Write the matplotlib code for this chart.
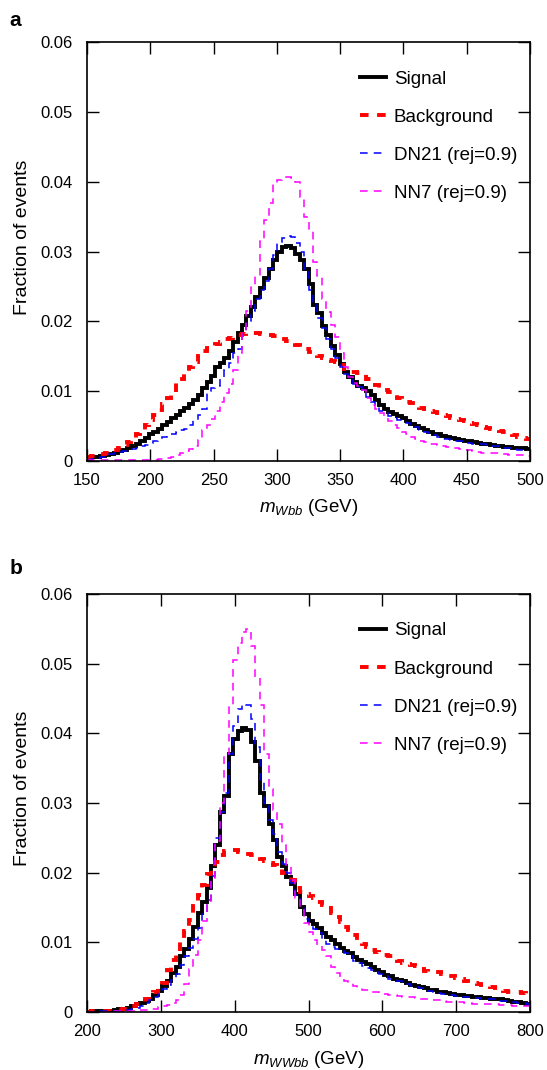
import numpy as np
import matplotlib
matplotlib.use("Agg")
import matplotlib.pyplot as plt

plt.rcParams['font.family'] = ['Liberation Sans', 'DejaVu Sans']
plt.rcParams['mathtext.fontset'] = 'custom'
plt.rcParams['mathtext.rm'] = 'Liberation Sans'
plt.rcParams['mathtext.it'] = 'Liberation Sans:italic'

# ---------------- Panel a data (m_Wbb, 3.5 GeV bins, 150-500) ----------------
edges_a = np.linspace(150, 500, 101)
signal_a = [0.0004, 0.0005, 0.0006, 0.0007, 0.0009, 0.0010, 0.0012, 0.0014, 0.0016, 0.0018,
            0.0022, 0.0025, 0.0029, 0.0033, 0.0038, 0.0042, 0.0046, 0.0051, 0.0056, 0.0061,
            0.0066, 0.0071, 0.0076, 0.0082, 0.0088, 0.0095, 0.0104, 0.0113, 0.0122, 0.0134,
            0.0140, 0.0147, 0.0157, 0.0171, 0.0183, 0.0195, 0.0208, 0.0221, 0.0235, 0.0248,
            0.0262, 0.0275, 0.0288, 0.0300, 0.0306, 0.0308, 0.0305, 0.0297, 0.0288, 0.0275,
            0.0254, 0.0224, 0.0212, 0.0194, 0.0180, 0.0165, 0.0152, 0.0139, 0.0128, 0.0120,
            0.0113, 0.0108, 0.0104, 0.0100, 0.0094, 0.0087, 0.0080, 0.0075, 0.0070, 0.0067,
            0.0064, 0.0061, 0.0057, 0.0053, 0.0050, 0.0047, 0.0044, 0.0041, 0.0039, 0.0038,
            0.0036, 0.0035, 0.0033, 0.0032, 0.0030, 0.0029, 0.0028, 0.0027, 0.0026, 0.0025,
            0.0024, 0.0023, 0.0022, 0.0021, 0.0020, 0.0020, 0.0019, 0.0018, 0.0018, 0.0017]
background_a = [0.0005, 0.0007, 0.0008, 0.0010, 0.0012, 0.0014, 0.0016, 0.0019, 0.0023, 0.0027,
                0.0032, 0.0038, 0.0044, 0.0051, 0.0059, 0.0066, 0.0073, 0.0082, 0.0090, 0.0099,
                0.0111, 0.0118, 0.0125, 0.0134, 0.0142, 0.0150, 0.0157, 0.0162, 0.0165, 0.0168,
                0.0171, 0.0174, 0.0176, 0.0178, 0.0180, 0.0182, 0.0183, 0.0183, 0.0183, 0.0182,
                0.0181, 0.0180, 0.0179, 0.0177, 0.0175, 0.0172, 0.0169, 0.0166, 0.0163, 0.0160,
                0.0156, 0.0153, 0.0150, 0.0147, 0.0145, 0.0143, 0.0142, 0.0138, 0.0132, 0.0128,
                0.0127, 0.0126, 0.0124, 0.0118, 0.0113, 0.0109, 0.0105, 0.0102, 0.0099, 0.0096,
                0.0090, 0.0087, 0.0085, 0.0083, 0.0079, 0.0076, 0.0074, 0.0072, 0.0070, 0.0068,
                0.0066, 0.0064, 0.0062, 0.0060, 0.0058, 0.0057, 0.0055, 0.0053, 0.0051, 0.0049,
                0.0047, 0.0046, 0.0045, 0.0043, 0.0041, 0.0039, 0.0037, 0.0035, 0.0033, 0.0031]
dn21_a = [0.0002, 0.0003, 0.0004, 0.0006, 0.0008, 0.0010, 0.0012, 0.0013, 0.0014, 0.0016,
          0.0017, 0.0019, 0.0021, 0.0023, 0.0026, 0.0029, 0.0032, 0.0034, 0.0036, 0.0039,
          0.0042, 0.0044, 0.0046, 0.0052, 0.0058, 0.0066, 0.0075, 0.0100, 0.0104, 0.0108,
          0.0120, 0.0130, 0.0140, 0.0155, 0.0160, 0.0182, 0.0200, 0.0215, 0.0232, 0.0245,
          0.0258, 0.0275, 0.0295, 0.0314, 0.0320, 0.0322, 0.0321, 0.0312, 0.0300, 0.0275,
          0.0245, 0.0225, 0.0205, 0.0190, 0.0175, 0.0160, 0.0148, 0.0135, 0.0124, 0.0116,
          0.0110, 0.0106, 0.0100, 0.0091, 0.0084, 0.0077, 0.0072, 0.0068, 0.0064, 0.0061,
          0.0059, 0.0057, 0.0054, 0.0051, 0.0048, 0.0045, 0.0042, 0.0040, 0.0037, 0.0034,
          0.0032, 0.0031, 0.0030, 0.0029, 0.0028, 0.0027, 0.0026, 0.0025, 0.0025, 0.0024,
          0.0023, 0.0022, 0.0021, 0.0020, 0.0019, 0.0018, 0.0017, 0.0016, 0.0016, 0.0015]
nn7_a = [0.0001, 0.0001, 0.0001, 0.0001, 0.0001, 0.0001, 0.0001, 0.0001, 0.0001, 0.0001,
         0.0001, 0.0001, 0.0001, 0.0002, 0.0002, 0.0002, 0.0003, 0.0003, 0.0004, 0.0005,
         0.0008, 0.0011, 0.0014, 0.0017, 0.0022, 0.0030, 0.0044, 0.0052, 0.0060, 0.0072,
         0.0085, 0.0097, 0.0110, 0.0130, 0.0155, 0.0185, 0.0215, 0.0250, 0.0265, 0.0315,
         0.0345, 0.0370, 0.0398, 0.0403, 0.0407, 0.0407, 0.0405, 0.0400, 0.0378, 0.0350,
         0.0330, 0.0285, 0.0265, 0.0232, 0.0214, 0.0195, 0.0178, 0.0155, 0.0135, 0.0120,
         0.0112, 0.0107, 0.0102, 0.0090, 0.0080, 0.0075, 0.0069, 0.0062, 0.0057, 0.0052,
         0.0047, 0.0042, 0.0038, 0.0035, 0.0032, 0.0029, 0.0027, 0.0025, 0.0024, 0.0023,
         0.0021, 0.0020, 0.0019, 0.0018, 0.0017, 0.0016, 0.0015, 0.0014, 0.0013, 0.0012,
         0.0012, 0.0011, 0.0011, 0.0010, 0.0010, 0.0009, 0.0009, 0.0008, 0.0008, 0.0007]

# ---------------- Panel b data (m_WWbb, 6 GeV bins, 200-800) ----------------
edges_b = np.linspace(200, 800, 101)
signal_b = [0.0000, 0.0001, 0.0001, 0.0001, 0.0002, 0.0002, 0.0003, 0.0004, 0.0005, 0.0006,
            0.0009, 0.0011, 0.0013, 0.0016, 0.0019, 0.0024, 0.0030, 0.0037, 0.0045, 0.0056,
            0.0065, 0.0080, 0.0091, 0.0105, 0.0122, 0.0142, 0.0158, 0.0178, 0.0209, 0.0240,
            0.0287, 0.0310, 0.0370, 0.0392, 0.0403, 0.0408, 0.0405, 0.0388, 0.0360, 0.0315,
            0.0295, 0.0270, 0.0247, 0.0222, 0.0210, 0.0194, 0.0184, 0.0170, 0.0150, 0.0140,
            0.0131, 0.0126, 0.0120, 0.0114, 0.0108, 0.0103, 0.0097, 0.0092, 0.0088, 0.0084,
            0.0079, 0.0075, 0.0072, 0.0069, 0.0065, 0.0061, 0.0057, 0.0053, 0.0051, 0.0048,
            0.0046, 0.0044, 0.0041, 0.0039, 0.0037, 0.0036, 0.0034, 0.0032, 0.0031, 0.0029,
            0.0028, 0.0027, 0.0026, 0.0025, 0.0024, 0.0023, 0.0023, 0.0022, 0.0021, 0.0020,
            0.0020, 0.0019, 0.0018, 0.0018, 0.0017, 0.0016, 0.0015, 0.0014, 0.0013, 0.0012]
background_b = [0.0000, 0.0001, 0.0001, 0.0001, 0.0002, 0.0002, 0.0003, 0.0003, 0.0004, 0.0005,
                0.0008, 0.0011, 0.0015, 0.0018, 0.0023, 0.0028, 0.0034, 0.0042, 0.0060, 0.0074,
                0.0086, 0.0100, 0.0116, 0.0132, 0.0152, 0.0168, 0.0183, 0.0198, 0.0206, 0.0215,
                0.0226, 0.0231, 0.0233, 0.0232, 0.0230, 0.0228, 0.0227, 0.0225, 0.0222, 0.0220,
                0.0217, 0.0214, 0.0211, 0.0206, 0.0200, 0.0195, 0.0189, 0.0178, 0.0172, 0.0170,
                0.0167, 0.0163, 0.0158, 0.0154, 0.0149, 0.0142, 0.0136, 0.0129, 0.0122, 0.0117,
                0.0110, 0.0104, 0.0098, 0.0093, 0.0089, 0.0086, 0.0084, 0.0082, 0.0080, 0.0078,
                0.0073, 0.0070, 0.0069, 0.0068, 0.0066, 0.0062, 0.0059, 0.0058, 0.0058, 0.0057,
                0.0054, 0.0052, 0.0051, 0.0049, 0.0047, 0.0044, 0.0042, 0.0041, 0.0040, 0.0039,
                0.0037, 0.0036, 0.0034, 0.0032, 0.0030, 0.0029, 0.0028, 0.0028, 0.0027, 0.0026]
dn21_b = [0.0000, 0.0000, 0.0000, 0.0001, 0.0001, 0.0001, 0.0001, 0.0002, 0.0002, 0.0003,
          0.0004, 0.0006, 0.0009, 0.0013, 0.0017, 0.0022, 0.0027, 0.0033, 0.0039, 0.0046,
          0.0055, 0.0068, 0.0080, 0.0092, 0.0105, 0.0120, 0.0142, 0.0161, 0.0195, 0.0250,
          0.0287, 0.0315, 0.0370, 0.0410, 0.0435, 0.0442, 0.0440, 0.0420, 0.0380, 0.0330,
          0.0300, 0.0276, 0.0255, 0.0230, 0.0212, 0.0200, 0.0185, 0.0168, 0.0151, 0.0133,
          0.0125, 0.0119, 0.0113, 0.0104, 0.0097, 0.0093, 0.0090, 0.0087, 0.0084, 0.0080,
          0.0073, 0.0070, 0.0066, 0.0063, 0.0060, 0.0057, 0.0054, 0.0051, 0.0048, 0.0046,
          0.0044, 0.0042, 0.0040, 0.0038, 0.0036, 0.0034, 0.0032, 0.0030, 0.0029, 0.0027,
          0.0026, 0.0025, 0.0024, 0.0023, 0.0022, 0.0022, 0.0021, 0.0020, 0.0020, 0.0019,
          0.0018, 0.0018, 0.0017, 0.0016, 0.0016, 0.0015, 0.0014, 0.0013, 0.0013, 0.0012]
nn7_b = [0.0000, 0.0000, 0.0000, 0.0000, 0.0000, 0.0000, 0.0001, 0.0001, 0.0001, 0.0001,
         0.0002, 0.0002, 0.0003, 0.0003, 0.0004, 0.0005, 0.0007, 0.0008, 0.0010, 0.0013,
         0.0017, 0.0024, 0.0040, 0.0062, 0.0082, 0.0103, 0.0130, 0.0160, 0.0192, 0.0245,
         0.0300, 0.0370, 0.0440, 0.0505, 0.0530, 0.0545, 0.0550, 0.0525, 0.0480, 0.0440,
         0.0370, 0.0320, 0.0290, 0.0270, 0.0240, 0.0210, 0.0190, 0.0163, 0.0146, 0.0128,
         0.0115, 0.0103, 0.0095, 0.0089, 0.0080, 0.0065, 0.0056, 0.0050, 0.0045, 0.0041,
         0.0037, 0.0034, 0.0032, 0.0031, 0.0029, 0.0028, 0.0027, 0.0026, 0.0025, 0.0024,
         0.0023, 0.0022, 0.0022, 0.0021, 0.0020, 0.0019, 0.0019, 0.0018, 0.0017, 0.0017,
         0.0016, 0.0015, 0.0015, 0.0014, 0.0014, 0.0013, 0.0013, 0.0012, 0.0012, 0.0012,
         0.0011, 0.0011, 0.0011, 0.0010, 0.0010, 0.0010, 0.0009, 0.0009, 0.0008, 0.0008]

series_labels = ["Signal", "Background", "DN21 (rej=0.9)", "NN7 (rej=0.9)"]
y_ticks = [0, 0.01, 0.02, 0.03, 0.04, 0.05, 0.06]
y_tick_labels = ["0", "0.01", "0.02", "0.03", "0.04", "0.05", "0.06"]
x_ticks_a = [150, 200, 250, 300, 350, 400, 450, 500]
x_ticks_b = [200, 300, 400, 500, 600, 700, 800]

fig = plt.figure(figsize=(5.47, 10.70), dpi=100)
ax_a = fig.add_axes([0.159, 0.5692, 0.810, 0.3915])
ax_b = fig.add_axes([0.159, 0.0542, 0.810, 0.3907])

styles = [
    dict(color='black', lw=2.8, ls='-'),
    dict(color='#ff0000', lw=2.8, ls=(0, (2.2, 2.2))),
    dict(color='#0000ff', lw=1.1, ls=(0, (5, 4))),
    dict(color='#ff00ff', lw=1.1, ls=(0, (5, 4))),
]


def draw(ax, edges, data, xticks, xlim, xlabel):
    handles = []
    for i in range(4):
        st = styles[i]
        h = ax.stairs(data[i], edges, color=st['color'], lw=st['lw'],
                      linestyle=st['ls'], label=series_labels[i], baseline=None)
        handles.append(h)
    ax.set_xlim(*xlim)
    ax.set_ylim(0, 0.06)
    ax.set_xticks(xticks)
    ax.set_xticklabels([str(t) for t in xticks])
    ax.set_yticks(y_ticks)
    ax.set_yticklabels(y_tick_labels)
    ax.tick_params(direction='in', top=True, right=True, length=8.5, width=1.0,
                   labelsize=12)
    ax.tick_params(axis='y', pad=10)
    ax.tick_params(axis='x', pad=8.5)
    for sp in ax.spines.values():
        sp.set_linewidth(1.2)
    ax.set_ylabel("Fraction of events", fontsize=14)
    ax.yaxis.set_label_coords(-0.126, 0.535)
    ax.set_xlabel(xlabel, fontsize=13.5, labelpad=7)
    ax.legend(handles, series_labels, loc='upper left',
              bbox_to_anchor=(0.599, 0.95), frameon=False, fontsize=13.5,
              handlelength=1.4, handletextpad=0.4, labelspacing=1.12,
              borderaxespad=0)


draw(ax_a, edges_a, [signal_a, background_a, dn21_a, nn7_a], x_ticks_a, (150, 500),
     "$m_{Wbb}$ (GeV)")
draw(ax_b, edges_b, [signal_b, background_b, dn21_b, nn7_b], x_ticks_b, (200, 800),
     "$m_{WWbb}$ (GeV)")

fig.text(0.018, 0.981, "a", fontsize=15, fontweight='bold', va='center', ha='left')
fig.text(0.018, 0.469, "b", fontsize=15, fontweight='bold', va='center', ha='left')

fig.savefig("out.png", dpi=100)
